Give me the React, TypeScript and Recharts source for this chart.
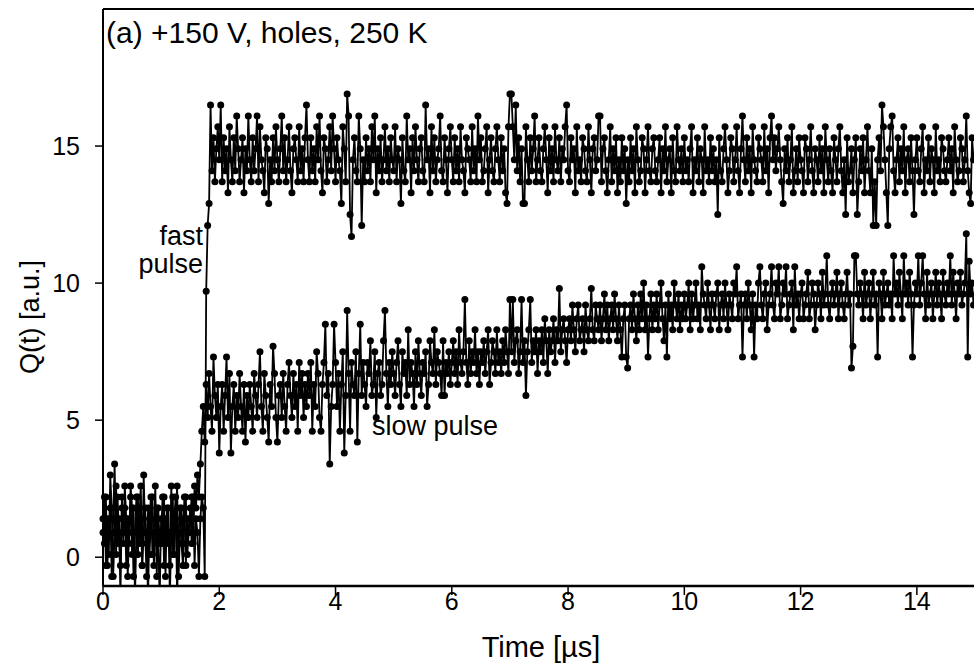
import { Line, LineChart, ReferenceLine, XAxis, YAxis } from "recharts"

// sampling interval of the digitiser trace
const SAMPLE_US = 0.025

const timeTicks = [0, 2, 4, 6, 8, 10, 12, 14]
const chargeTicks = [0, 5, 10, 15]

// fast pulse, 20 samples per row (0.5 us)
const fastPulse = [
  1.4, 0.5, 2.2, -0.3, 0.9, 1.8, -0.7, 1.4, 3.4, 0.1, 2.2, 0.9, -0.3, 1.8, 0.5, 2.6, 1.4, -0.7, 0.9, 2.2,
  0.1, 1.8, -1.5, 0.9, 2.2, 0.5, 1.4, -0.3, 3.0, 0.9, -0.7, 1.8, 0.1, 1.4, 2.2, -0.3, 0.9, 1.8, 0.5, -1.5,
  1.4, 0.5, 2.2, -0.7, 1.8, 0.9, -0.3, 2.6, 0.1, 1.4, 2.2, -1.5, 0.9, 1.8, 0.5, -0.3, 1.4, 2.2, 0.1, 0.9,
  1.8, 0.5, 2.2, -0.3, 1.4, 0.9, -0.7, 1.4, 2.2, 1.8, -0.7, 9.7, 12.1, 12.9, 16.5, 14.1, 15.3, 13.7, 14.9, 15.7,
  14.5, 16.5, 13.7, 15.3, 14.1, 14.9, 13.3, 15.7, 14.5, 13.7, 15.3, 14.1, 16.1, 14.9, 13.7, 14.5, 15.3, 13.3, 14.9, 14.1,
  16.1, 14.5, 13.7, 15.3, 14.1, 14.9, 16.1, 13.7, 15.7, 14.5, 14.1, 13.3, 15.3, 14.9, 12.9, 14.5, 13.7, 15.3, 14.1, 15.7,
  14.5, 13.7, 14.9, 16.1, 14.1, 15.3, 13.7, 14.5, 15.7, 14.1, 13.3, 14.9, 15.3, 14.5, 13.7, 15.7, 14.1, 14.9, 13.7, 15.3,
  16.5, 14.5, 13.7, 15.3, 14.1, 14.9, 13.7, 15.7, 14.5, 16.1, 14.1, 13.3, 15.3, 14.9, 13.7, 14.5, 15.7, 14.1, 16.1, 14.9,
  13.7, 15.3, 14.5, 14.1, 12.9, 15.7, 14.9, 13.7, 16.9, 16.1, 12.5, 11.7, 14.5, 15.3, 14.1, 13.7, 16.1, 14.9, 12.1, 14.5,
  13.7, 15.3, 14.1, 14.9, 13.7, 15.7, 14.5, 16.1, 13.3, 14.9, 14.1, 15.3, 13.7, 14.5, 15.7, 14.1, 14.9, 13.7, 15.3, 14.5,
  14.1, 15.7, 13.7, 14.9, 14.5, 12.9, 15.3, 14.1, 13.7, 16.1, 14.5, 14.9, 13.3, 15.3, 14.1, 15.7, 14.5, 13.7, 14.9, 15.3,
  14.1, 13.7, 16.5, 14.5, 14.9, 13.3, 15.7, 14.1, 15.3, 13.7, 14.5, 14.9, 16.1, 14.1, 13.7, 15.3, 14.5, 13.3, 14.9, 15.7,
  14.5, 13.7, 15.3, 14.1, 14.9, 13.7, 15.7, 14.5, 14.1, 13.3, 15.3, 14.9, 14.5, 13.7, 15.7, 14.1, 14.9, 13.7, 16.1, 14.5,
  15.3, 13.7, 14.1, 14.9, 15.7, 13.3, 14.5, 15.3, 14.1, 13.7, 14.9, 15.7, 14.5, 13.7, 15.3, 14.1, 14.9, 13.3, 12.9, 15.7,
  16.9, 16.9, 15.7, 14.5, 16.5, 14.1, 15.3, 13.7, 14.9, 12.9, 12.9, 15.7, 14.5, 13.7, 15.3, 14.1, 14.9, 16.1, 13.7, 14.5,
  15.3, 14.1, 13.7, 14.9, 15.7, 14.5, 13.3, 15.3, 14.1, 14.9, 13.7, 15.7, 14.5, 14.1, 15.3, 13.7, 14.9, 14.5, 15.7, 16.5,
  14.1, 13.7, 15.3, 14.5, 14.9, 13.3, 15.7, 14.1, 14.5, 13.7, 15.3, 14.9, 14.1, 13.7, 15.7, 14.5, 13.3, 14.9, 15.3, 14.1,
  14.5, 16.1, 16.1, 13.7, 14.9, 15.3, 14.1, 13.3, 14.5, 15.7, 13.7, 14.9, 14.1, 15.3, 13.3, 14.5, 13.7, 15.3, 14.1, 14.9,
  12.9, 14.5, 13.7, 15.3, 14.1, 14.9, 13.3, 15.7, 14.5, 13.7, 14.1, 15.3, 14.9, 13.3, 14.5, 15.7, 14.1, 13.7, 14.9, 15.3,
  14.1, 13.7, 14.5, 15.3, 13.3, 14.9, 14.1, 15.7, 13.7, 14.5, 14.9, 13.3, 15.3, 14.1, 13.7, 15.7, 14.5, 14.1, 14.9, 13.7,
  15.3, 14.1, 14.5, 13.7, 14.9, 15.7, 13.3, 14.5, 14.1, 15.3, 13.7, 14.9, 14.5, 13.3, 15.7, 14.1, 14.5, 13.7, 15.3, 14.1,
  14.9, 13.7, 14.5, 12.5, 15.3, 14.1, 13.7, 14.9, 15.7, 14.5, 13.3, 14.1, 15.3, 14.9, 13.7, 14.5, 15.7, 14.1, 13.3, 14.9,
  16.1, 14.5, 13.7, 15.3, 14.1, 14.9, 13.3, 15.7, 14.5, 14.1, 13.7, 15.3, 14.9, 14.5, 13.7, 15.7, 14.1, 14.9, 13.3, 15.3,
  16.1, 14.5, 15.3, 14.1, 14.9, 15.7, 14.5, 13.7, 12.9, 14.9, 14.1, 15.3, 13.7, 14.5, 15.7, 13.3, 14.1, 14.9, 13.7, 15.3,
  14.5, 14.1, 13.3, 15.3, 14.9, 13.7, 14.5, 15.7, 14.1, 13.3, 14.9, 14.5, 13.7, 15.3, 14.1, 14.9, 13.3, 15.7, 14.5, 13.7,
  14.9, 14.1, 13.3, 15.3, 14.5, 13.7, 14.9, 15.7, 14.1, 13.3, 14.5, 12.5, 15.3, 13.7, 14.1, 14.9, 13.3, 14.5, 15.3, 12.5,
  13.7, 14.9, 14.1, 15.3, 13.3, 14.5, 15.7, 14.1, 13.3, 14.9, 12.1, 13.7, 12.1, 14.5, 15.3, 14.1, 16.5, 15.7, 14.5, 13.3,
  12.1, 14.9, 15.7, 16.1, 14.1, 13.3, 14.5, 15.3, 13.7, 14.9, 14.1, 15.7, 13.3, 14.5, 14.9, 13.7, 15.3, 14.1, 12.5, 14.5,
  15.3, 14.1, 13.7, 14.9, 15.7, 13.3, 14.5, 14.1, 15.3, 13.7, 14.9, 14.5, 13.3, 15.7, 14.1, 14.5, 13.7, 15.3, 14.9, 14.1,
  13.7, 14.5, 15.3, 14.1, 14.9, 13.3, 15.7, 14.5, 13.7, 14.1, 15.3, 14.9, 13.7, 14.5, 16.1, 14.1, 13.3, 12.9, 15.3, 14.5,
]

// slow pulse, same time grid
const slowPulse = [
  0.9, 2.2, -0.3, 1.4, 0.1, 3.0, 1.8, -0.7, 0.9, 2.6, 0.5, 1.4, -1.5, 2.2, 0.9, 1.8, -0.3, 1.4, 0.5, 2.6,
  1.8, -0.7, 0.9, 2.2, 0.1, 1.4, 2.6, -0.3, 0.9, 1.8, 0.5, -1.5, 1.4, 2.2, 0.1, 0.9, 2.6, -0.7, 1.8, 0.5,
  0.9, 2.2, -0.3, 1.4, 0.5, 1.8, -1.5, 0.9, 2.2, 0.1, 1.4, 2.6, -0.7, 0.9, 1.8, 0.5, 2.2, -0.3, 1.4, 0.9,
  1.4, 2.2, 0.5, 2.6, 1.8, 3.0, 2.2, 3.4, 4.6, 5.5, 4.2, 6.3, 5.1, 6.7, 5.5, 4.6, 7.3, 5.9, 5.1, 6.3,
  3.8, 5.5, 6.3, 4.6, 5.9, 7.3, 5.1, 6.7, 3.8, 5.5, 6.3, 4.6, 5.9, 5.1, 6.7, 5.5, 4.6, 6.3, 4.2, 5.9,
  5.1, 6.3, 5.5, 4.6, 6.7, 5.9, 5.1, 6.3, 7.5, 5.5, 4.6, 6.7, 5.9, 5.1, 4.2, 6.3, 5.5, 7.7, 6.7, 5.1,
  4.2, 5.9, 6.3, 5.1, 6.7, 5.5, 4.6, 6.3, 7.1, 5.9, 5.1, 6.7, 5.5, 6.3, 4.6, 7.1, 5.9, 6.7, 5.1, 6.3,
  5.5, 6.7, 5.9, 7.1, 4.6, 6.3, 5.5, 7.5, 6.7, 5.1, 4.6, 6.3, 7.1, 8.5, 5.9, 6.7, 3.4, 5.5, 6.3, 8.5,
  7.1, 5.5, 6.7, 4.6, 6.3, 7.5, 3.8, 5.9, 9.0, 6.7, 4.6, 7.1, 6.3, 5.9, 7.5, 4.2, 6.7, 8.5, 5.9, 7.1,
  6.3, 5.5, 7.1, 6.7, 7.9, 5.9, 6.3, 7.5, 5.1, 6.7, 7.1, 5.9, 6.3, 7.9, 9.0, 6.7, 5.5, 7.1, 6.3, 7.5,
  6.7, 5.9, 7.1, 7.9, 6.3, 5.5, 7.5, 6.7, 7.1, 5.9, 8.3, 6.3, 7.1, 6.7, 5.5, 7.5, 6.3, 7.9, 6.7, 5.9,
  7.1, 6.7, 7.5, 5.5, 6.3, 7.9, 7.1, 6.7, 8.3, 6.3, 7.5, 7.1, 6.7, 5.9, 7.9, 5.9, 7.1, 6.7, 7.5, 6.3,
  7.1, 7.9, 6.7, 7.5, 6.3, 8.3, 7.1, 6.7, 7.5, 9.4, 7.1, 6.3, 7.9, 6.7, 7.5, 7.1, 8.3, 6.7, 7.5, 6.3,
  7.5, 7.1, 7.9, 6.7, 7.5, 8.3, 6.3, 7.1, 7.9, 7.5, 6.7, 8.3, 7.1, 7.5, 6.7, 7.9, 7.1, 8.3, 7.5, 6.7,
  9.4, 7.5, 9.4, 7.1, 7.9, 8.3, 6.7, 7.5, 9.4, 7.1, 7.9, 5.9, 7.5, 8.3, 9.4, 7.1, 7.9, 7.5, 8.3, 6.7,
  7.9, 7.5, 8.3, 7.1, 8.7, 7.9, 6.7, 8.3, 7.5, 7.9, 8.7, 7.1, 8.3, 7.9, 9.8, 7.5, 8.3, 8.7, 7.9, 7.1,
  8.3, 8.7, 7.9, 9.2, 8.3, 7.5, 8.7, 9.2, 7.9, 8.3, 8.7, 7.5, 9.2, 8.3, 7.9, 8.7, 9.8, 8.3, 7.9, 9.2,
  8.7, 8.3, 9.2, 7.9, 8.7, 9.6, 8.3, 9.2, 7.9, 8.7, 9.2, 8.3, 9.6, 8.7, 7.9, 9.2, 8.3, 7.3, 8.7, 9.2,
  7.3, 6.9, 8.7, 9.2, 8.3, 9.6, 8.7, 7.9, 9.2, 8.3, 9.6, 8.7, 10.0, 8.3, 9.2, 7.3, 8.7, 9.6, 8.3, 9.2,
  8.7, 9.6, 8.3, 9.2, 10.0, 8.7, 7.9, 9.2, 7.3, 9.6, 8.7, 9.2, 8.3, 10.0, 9.2, 8.7, 9.6, 8.3, 9.2, 8.7,
  9.6, 8.7, 9.2, 10.0, 8.3, 9.6, 8.7, 9.2, 10.0, 8.7, 9.2, 8.3, 10.6, 9.6, 9.2, 8.7, 10.0, 9.2, 8.3, 9.6,
  9.2, 8.7, 9.6, 10.0, 8.3, 9.2, 9.6, 8.7, 10.0, 9.2, 8.3, 9.6, 9.2, 8.7, 10.0, 9.6, 10.6, 8.7, 9.2, 9.6,
  7.3, 9.2, 9.6, 8.7, 10.0, 9.2, 8.3, 9.6, 7.3, 9.2, 8.7, 10.0, 10.6, 9.2, 8.7, 9.6, 10.0, 8.3, 9.2, 9.6,
  10.6, 9.2, 8.7, 10.0, 9.6, 10.6, 8.7, 9.2, 10.0, 9.6, 10.6, 8.7, 9.2, 9.6, 10.0, 8.3, 10.6, 9.2, 9.6, 8.7,
  9.6, 10.0, 8.7, 9.2, 9.6, 10.4, 8.7, 9.2, 10.0, 9.6, 8.3, 9.2, 10.0, 9.6, 8.7, 10.4, 9.2, 9.6, 11.0, 9.2,
  8.7, 9.6, 10.0, 9.2, 9.6, 10.4, 8.7, 9.6, 10.0, 9.2, 8.7, 9.6, 10.4, 9.2, 9.6, 6.9, 7.7, 11.0, 11.0, 9.6,
  9.2, 10.0, 9.6, 8.7, 10.4, 9.2, 9.6, 10.0, 8.7, 9.6, 10.4, 9.2, 9.6, 7.3, 10.0, 9.6, 8.7, 10.4, 9.2, 9.6,
  10.0, 9.2, 9.6, 8.7, 11.0, 9.6, 10.0, 9.2, 10.4, 9.6, 8.7, 11.0, 9.6, 10.0, 9.2, 10.4, 9.6, 7.3, 9.2, 10.0,
  9.6, 11.0, 9.2, 10.0, 11.0, 9.6, 8.7, 10.4, 9.2, 9.6, 10.0, 8.7, 9.6, 10.4, 9.2, 10.0, 9.6, 8.7, 10.4, 9.6,
  9.2, 10.0, 9.6, 11.0, 9.2, 10.4, 9.6, 8.7, 10.0, 9.6, 10.4, 9.2, 9.6, 10.0, 11.8, 7.3, 10.8, 9.6, 10.0, 9.2,
]

const data = fastPulse.map((q, i) => ({
  t: Number((i * SAMPLE_US).toFixed(3)),
  fast: q,
  slow: slowPulse[i],
}))

const font = "'Liberation Sans', Arial, Helvetica, sans-serif"
const tickStyle = { fill: "#000", fontSize: 25, fontFamily: font }
const dotStyle = { r: 3.5, fill: "#000", stroke: "none" }

export default function App() {
  return (
    <div
      style={{
        position: "absolute",
        left: 0,
        top: 0,
        width: 974,
        height: 670,
        overflow: "hidden",
        background: "#fff",
      }}
    >
      <LineChart width={975} height={670} data={data} margin={{ top: 9, right: 0, bottom: 0, left: 0 }}>
        <XAxis
          dataKey="t"
          type="number"
          domain={[0, 15]}
          ticks={timeTicks}
          interval={0}
          height={84}
          axisLine={{ stroke: "#000", strokeWidth: 2.5 }}
          tickLine={{ stroke: "#000", strokeWidth: 1.5 }}
          tickSize={9}
          tickMargin={-3}
          tick={tickStyle}
        />
        <YAxis
          type="number"
          domain={[-1.05, 20]}
          ticks={chargeTicks}
          interval={0}
          allowDataOverflow
          width={103}
          axisLine={{ stroke: "#000", strokeWidth: 2 }}
          tickLine={{ stroke: "#000", strokeWidth: 1.5 }}
          tickSize={8}
          tickMargin={15}
          tick={tickStyle}
        />
        <ReferenceLine y={20} stroke="#000" strokeWidth={2} />
        <Line dataKey="slow" stroke="#000" strokeWidth={1.8} dot={dotStyle} isAnimationActive={false} />
        <Line dataKey="fast" stroke="#000" strokeWidth={1.8} dot={dotStyle} isAnimationActive={false} />
      </LineChart>
      <svg
        width={974}
        height={670}
        style={{ position: "absolute", left: 0, top: 0, pointerEvents: "none" }}
        fontFamily={font}
        fill="#000"
      >
        <text x={106} y={43} fontSize={30}>
          (a) +150 V, holes, 250 K
        </text>
        <text x={203} y={245} fontSize={27} textAnchor="end">
          fast
        </text>
        <text x={203} y={273} fontSize={27} textAnchor="end">
          pulse
        </text>
        <text x={372} y={435} fontSize={27}>
          slow pulse
        </text>
        <text x={541} y={657} fontSize={29} textAnchor="middle">
          Time [µs]
        </text>
        <text x={39} y={317} fontSize={27} textAnchor="middle" transform="rotate(-90 39 317)">
          Q(t) [a.u.]
        </text>
      </svg>
    </div>
  )
}
